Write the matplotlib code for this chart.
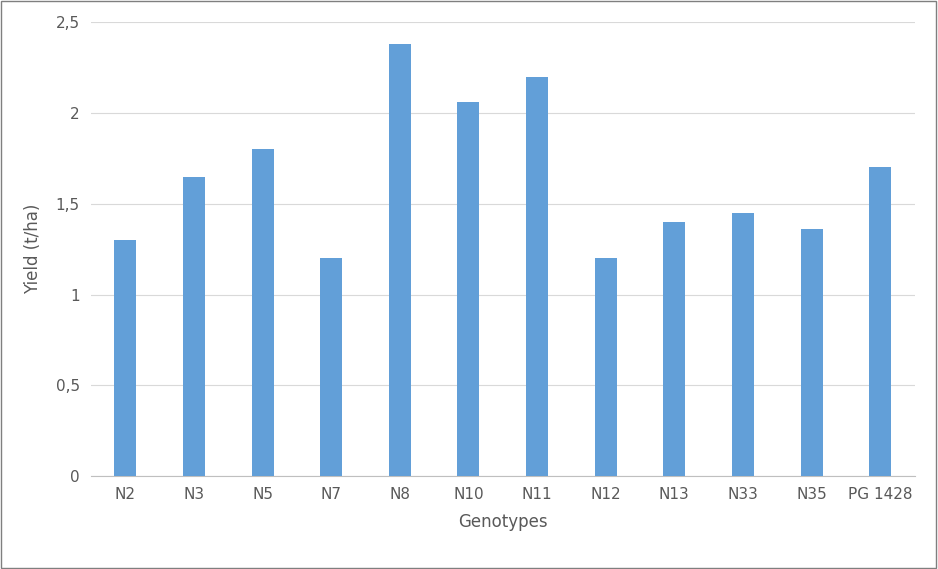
import matplotlib.pyplot as plt
from matplotlib.patches import Rectangle

genotypes = ["N2", "N3", "N5", "N7", "N8", "N10", "N11", "N12", "N13", "N33", "N35", "PG 1428"]
yields = [1.30, 1.65, 1.80, 1.20, 2.38, 2.06, 2.20, 1.20, 1.40, 1.45, 1.36, 1.70]
y_ticks = [0, 0.5, 1, 1.5, 2, 2.5]

fig = plt.figure(figsize=(9.38, 5.69), dpi=100)
ax = fig.add_axes([0.097, 0.163, 0.878, 0.798])

ax.bar(range(len(genotypes)), yields, width=0.32, color="#629FD8", zorder=3)

ax.set_xlim(-0.5, len(genotypes) - 0.5)
ax.set_ylim(0, 2.5)
ax.set_yticks(y_ticks)
ax.set_yticklabels([f"{t:g}".replace(".", ",") for t in y_ticks])
ax.set_xticks(range(len(genotypes)))
ax.set_xticklabels(genotypes)
ax.grid(axis="y", color="#D9D9D9", linewidth=0.8, zorder=0)
for side in ("top", "right", "left"):
    ax.spines[side].set_visible(False)
ax.spines["bottom"].set_color("#BFBFBF")
ax.tick_params(length=0, labelsize=11, colors="#595959", pad=8)

ax.set_xlabel("Genotypes", fontsize=12, color="#595959", labelpad=8)
ax.set_ylabel("Yield (t/ha)", fontsize=12, color="#595959", labelpad=10)

fig.patches.append(Rectangle((0.001, 0.002), 0.997, 0.996, transform=fig.transFigure,
                             fill=False, edgecolor="#7F7F7F", linewidth=1))

fig.savefig("out.png", dpi=100)
